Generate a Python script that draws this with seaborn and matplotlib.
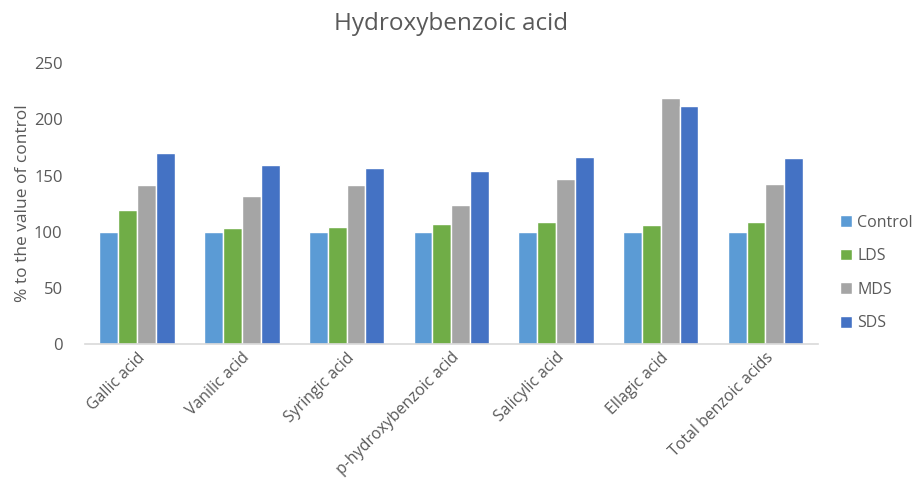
import pandas as pd
import seaborn as sns
import matplotlib.pyplot as plt

# --- Data (% of control) ---
compounds = ["Gallic acid", "Vanilic acid", "Syringic acid", "p-hydroxybenzoic acid",
             "Salicylic acid", "Ellagic acid", "Total benzoic acids"]
control = [100, 100, 100, 100, 100, 100, 100]
lds = [119.5, 103.7, 103.9, 107.2, 108.7, 106.3, 109.0]
mds = [142.0, 131.7, 141.3, 123.4, 147.3, 219.2, 142.2]
sds = [169.8, 159.0, 156.6, 154.2, 166.2, 211.7, 165.3]
groups = ["Control", "LDS", "MDS", "SDS"]
colors = ["#5B9BD5", "#70AD47", "#A5A5A5", "#4472C4"]

# long-form table for seaborn
df = pd.DataFrame({"Compound": compounds, "Control": control, "LDS": lds,
                   "MDS": mds, "SDS": sds})
df = df.melt(id_vars="Compound", var_name="Group", value_name="Value")

sns.set_style("white")
plt.rcParams["font.family"] = ["Open Sans", "DejaVu Sans"]
text_col = "#595959"

fig = plt.figure(figsize=(9.22, 4.9), dpi=100)
ax = fig.add_axes([0.092, 0.298, 0.795, 0.573])

sns.barplot(data=df, x="Compound", y="Value", hue="Group", hue_order=groups,
            palette=colors, saturation=1, width=0.72, edgecolor="white",
            linewidth=1, errorbar=None, ax=ax)

ax.set_ylim(0, 250)
ax.set_yticks(range(0, 251, 50))
ax.set_xlim(-0.5, 6.5)
ax.set_xlabel("")
ax.set_ylabel("% to the value of control", fontsize=12.5, color=text_col, labelpad=2)
ax.set_title("Hydroxybenzoic acid", fontsize=17.5, color=text_col, pad=24)
ax.tick_params(axis="y", length=0, labelsize=12, labelcolor=text_col, pad=16)
ax.tick_params(axis="x", length=0, labelsize=11.4, labelcolor=text_col, pad=4)
for lbl in ax.get_xticklabels():
    lbl.set_rotation(45)
    lbl.set_ha("right")
    lbl.set_rotation_mode("anchor")

for side in ["top", "right", "left"]:
    ax.spines[side].set_visible(False)
ax.spines["bottom"].set_color("#D9D9D9")
ax.spines["bottom"].set_linewidth(1.2)

# legend on the right side, spaced out like the original
handles, labels = ax.get_legend_handles_labels()
ax.get_legend().remove()
leg = fig.legend(handles, labels, loc="center left", bbox_to_anchor=(0.895, 0.443),
                 frameon=False, fontsize=11.5, labelspacing=1.1, handlelength=0.75,
                 handleheight=0.75, handletextpad=0.35)
for t in leg.get_texts():
    t.set_color(text_col)

fig.savefig("out.png", dpi=100)
